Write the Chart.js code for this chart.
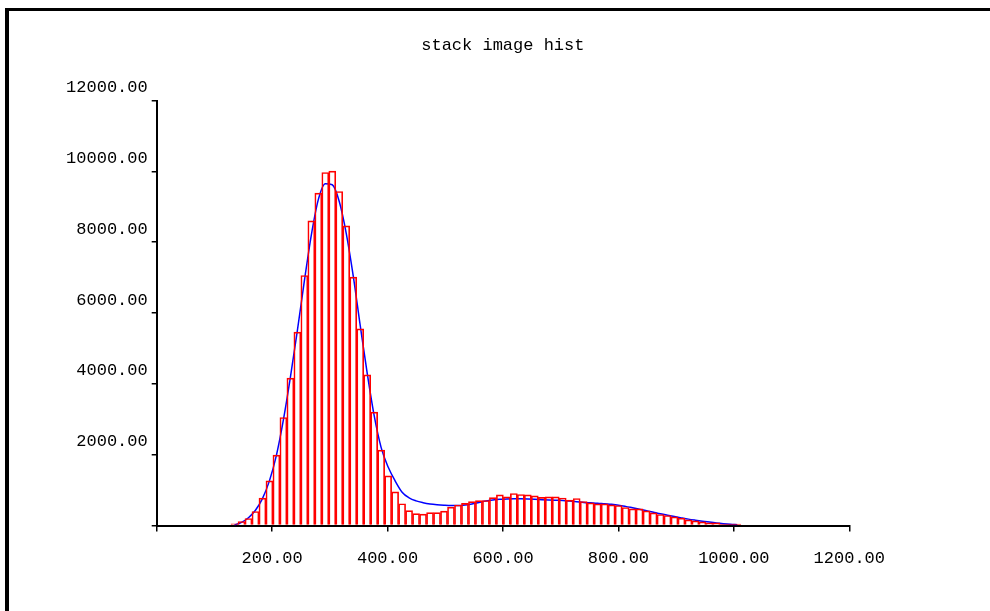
<!DOCTYPE html>
<html>
<head>
<meta charset="utf-8">
<title>stack image hist</title>
<script src="https://cdn.jsdelivr.net/npm/chart.js@4/dist/chart.umd.min.js"></script>
<style>
  html, body { margin: 0; padding: 0; background: #fff; }
  #wrap { position: relative; width: 990px; height: 611px; overflow: hidden; }
  #hist { position: absolute; left: 0; top: 0; }
  #frame {
    position: absolute; left: 5px; top: 8px; width: 1000px; height: 700px;
    border-left: 4px solid #000; border-top: 3px solid #000;
    pointer-events: none;
  }
</style>
</head>
<body>
<div id="wrap">
  <canvas id="hist" width="990" height="611"></canvas>
  <div id="frame"></div>
</div>
<script>
// bin centres (grey value), 73 bins of ~12.1 wide
const binCenters = [
  134.8, 146.9, 159.0, 171.1, 183.2, 195.3, 207.4, 219.5, 231.6, 243.7,
  255.8, 267.9, 280.0, 292.1, 304.2, 316.3, 328.4, 340.5, 352.6, 364.7,
  376.8, 388.9, 401.0, 413.1, 425.2, 437.3, 449.4, 461.5, 473.6, 485.7,
  497.8, 509.9, 522.0, 534.1, 546.2, 558.3, 570.4, 582.5, 594.6, 606.7,
  618.8, 630.9, 643.0, 655.1, 667.2, 679.3, 691.4, 703.5, 715.6, 727.7,
  739.8, 751.9, 764.0, 776.1, 788.2, 800.3, 812.4, 824.5, 836.6, 848.7,
  860.8, 872.9, 885.0, 897.1, 909.2, 921.3, 933.4, 945.5, 957.6, 969.7,
  981.8, 993.9, 1006.0
];

// pixel counts per bin
const counts = [
  47, 113, 198, 395, 772, 1261, 1985, 3049, 4160, 5459,
  7059, 8603, 9383, 9968, 10004, 9431, 8462, 7012, 5553, 4254,
  3200, 2127, 1400, 950, 615, 420, 335, 320, 365, 365,
  405, 520, 580, 625, 672, 702, 706, 786, 866, 810,
  904, 876, 866, 838, 796, 810, 810, 776, 716, 762,
  678, 640, 612, 612, 584, 565, 508, 471, 471, 414,
  358, 311, 282, 245, 207, 160, 132, 104, 75, 75,
  38, 38, 38
];

// fitted curve sampled at the same bin centres
const fitCurve = [
  15, 90, 220, 430, 760, 1260, 1980, 2980, 4180, 5500,
  6900, 8200, 9200, 9650, 9620, 9150, 8250, 7050, 5650, 4300,
  3100, 2200, 1650, 1260, 940, 780, 695, 645, 610, 588,
  573, 563, 562, 578, 610, 650, 690, 718, 738, 750,
  752, 752, 750, 742, 730, 720, 712, 705, 690, 672,
  652, 640, 628, 612, 598, 575, 540, 500, 460, 420,
  375, 330, 290, 252, 215, 180, 150, 122, 96, 72,
  52, 35, 22
];

const xTicks = [0, 200, 400, 600, 800, 1000, 1200];
const yTicks = [0, 2000, 4000, 6000, 8000, 10000, 12000];

const FONT = { family: '"Liberation Mono", "DejaVu Sans Mono", monospace', size: 17 };
const fmt = v => (v === 0 ? '' : Number(v).toFixed(2));

const ctx = document.getElementById('hist').getContext('2d');
new Chart(ctx, {
  data: {
    datasets: [
      {
        type: 'bar',
        label: 'hist',
        data: binCenters.map((x, i) => ({ x: x, y: counts[i] })),
        backgroundColor: 'rgba(0,0,0,0)',
        borderColor: '#ff0000',
        borderWidth: 1,
        borderSkipped: 'start',
        barPercentage: 1,
        categoryPercentage: 1,
        order: 0
      },
      {
        type: 'line',
        label: 'fit',
        data: binCenters.map((x, i) => ({ x: x, y: fitCurve[i] })),
        borderColor: '#0000ff',
        borderWidth: 1.5,
        pointRadius: 0,
        cubicInterpolationMode: 'monotone',
        fill: false,
        order: 1
      }
    ]
  },
  options: {
    responsive: false,
    animation: false,
    events: [],
    layout: { padding: { left: 31.7, right: 16, top: 0, bottom: 25.5 } },
    plugins: {
      legend: { display: false },
      tooltip: { enabled: false },
      title: {
        display: true,
        text: 'stack image hist',
        color: '#000',
        font: { ...FONT, weight: 'normal' },
        padding: { top: 35, bottom: 45.1 }
      }
    },
    scales: {
      x: {
        type: 'linear',
        min: 0,
        max: 1200,
        offset: false,
        afterBuildTicks: s => { s.ticks = xTicks.map(v => ({ value: v })); },
        afterFit: s => { s.height = 60; },
        grid: { drawOnChartArea: false, drawTicks: true, tickLength: 6, color: '#000', lineWidth: 1.5, offset: false },
        border: { display: true, color: '#000', width: 2 },
        ticks: { color: '#000', font: FONT, padding: 17, maxRotation: 0, autoSkip: false, callback: fmt }
      },
      y: {
        type: 'linear',
        position: 'left',
        min: 0,
        max: 12000,
        afterBuildTicks: s => { s.ticks = yTicks.map(v => ({ value: v })); },
        afterFit: s => { s.width = 125; },
        grid: { drawOnChartArea: false, drawTicks: true, tickLength: 5, color: '#000', lineWidth: 1.5 },
        border: { display: true, color: '#000', width: 2 },
        ticks: { color: '#000', font: FONT, padding: 4, labelOffset: -13, autoSkip: false, callback: fmt }
      },
      // empty right-hand strip so the plot stops at 1200
      yRight: {
        type: 'linear',
        position: 'right',
        display: true,
        afterFit: s => { s.width = 124.7; },
        grid: { display: false },
        border: { display: false },
        ticks: { display: false }
      }
    }
  }
});
</script>
</body>
</html>
